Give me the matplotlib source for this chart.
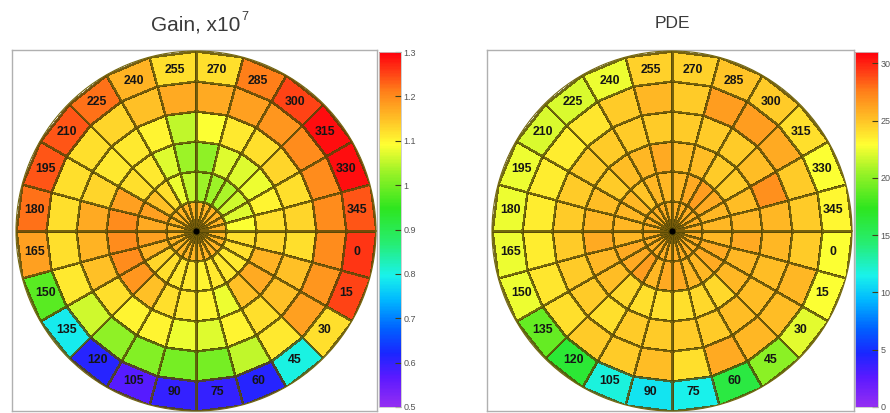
import numpy as np
import matplotlib
matplotlib.use("Agg")
import matplotlib.pyplot as plt
from matplotlib.colors import LinearSegmentedColormap

plt.rcParams['font.family'] = ['Liberation Sans', 'DejaVu Sans']

# ---------------- data ----------------
angles = [0, 15, 30, 45, 60, 75, 90, 105, 120, 135, 150, 165,
          180, 195, 210, 225, 240, 255, 270, 285, 300, 315, 330, 345]
angle_labels = [str(a) for a in angles]
ring_edges = [0, 1, 2, 3, 4, 5, 6]

# Gain (x1e7), ring 0 = innermost ... ring 5 = outermost, ordered by angle
gain_r0 = [1.16] * 24
gain_r1 = [1.12, 1.12, 1.11, 1.11, 1.11, 1.10, 1.11, 1.11, 1.12, 1.13, 1.16, 1.18,
           1.17, 1.18, 1.15, 1.12, 1.08, 1.05, 1.03, 1.03, 1.04, 1.06, 1.07, 1.09]
gain_r2 = [1.13, 1.16, 1.17, 1.15, 1.08, 1.10, 1.11, 1.12, 1.15, 1.19, 1.20, 1.20,
           1.20, 1.18, 1.12, 1.11, 1.07, 1.03, 1.02, 1.07, 1.07, 1.08, 1.10, 1.12]
gain_r3 = [1.12, 1.15, 1.15, 1.12, 1.10, 1.07, 1.08, 1.10, 1.10, 1.12, 1.15, 1.16,
           1.17, 1.13, 1.11, 1.11, 1.10, 1.05, 1.09, 1.11, 1.12, 1.13, 1.12, 1.13]
gain_r4 = [1.20, 1.19, 1.18, 1.11, 1.05, 1.00, 1.00, 1.01, 1.02, 1.06, 1.11, 1.12,
           1.12, 1.12, 1.12, 1.13, 1.15, 1.17, 1.17, 1.18, 1.19, 1.20, 1.20, 1.20]
gain_r5 = [1.26, 1.25, 1.12, 0.80, 0.61, 0.60, 0.60, 0.57, 0.61, 0.79, 0.98, 1.18,
           1.22, 1.24, 1.24, 1.22, 1.16, 1.12, 1.12, 1.21, 1.25, 1.29, 1.29, 1.24]

# PDE (%)
pde_r0 = [25.8] * 24
pde_r1 = [25.5, 26.0, 26.0, 25.5, 25.5, 26.0, 26.0, 25.5, 26.5, 26.0, 26.0, 25.5,
          25.5, 25.5, 25.5, 25.0, 25.5, 25.5, 25.5, 26.0, 26.5, 26.0, 25.5, 25.5]
pde_r2 = [26.0, 25.5, 25.5, 24.3, 24.3, 24.0, 24.0, 24.0, 24.3, 25.2, 25.5, 26.0,
          25.5, 25.2, 24.8, 25.2, 25.5, 26.0, 25.2, 25.2, 24.8, 24.8, 25.2, 25.5]
pde_r3 = [25.5, 25.2, 25.2, 25.2, 24.8, 24.8, 24.8, 24.8, 24.0, 24.8, 24.8, 24.8,
          24.8, 24.8, 24.8, 24.8, 24.8, 24.8, 24.8, 24.8, 24.8, 25.2, 27.0, 25.5]
pde_r4 = [24.8, 25.5, 25.2, 25.5, 26.0, 24.0, 25.2, 24.8, 24.8, 24.0, 23.8, 23.5,
          23.5, 23.5, 23.5, 23.8, 24.8, 25.5, 24.8, 26.5, 26.5, 26.0, 24.8, 24.8]
pde_r5 = [22.8, 22.8, 22.2, 20.0, 16.0, 11.5, 11.0, 11.8, 16.5, 19.0, 22.5, 22.5,
          22.5, 22.5, 22.0, 22.0, 22.5, 24.5, 24.5, 25.0, 24.8, 24.0, 22.8, 23.2]

gain_ticks = [0.5, 0.6, 0.7, 0.8, 0.9, 1.0, 1.1, 1.2, 1.3]
gain_ticklabels = ['0.5', '0.6', '0.7', '0.8', '0.9', '1', '1.1', '1.2', '1.3']
pde_ticks = [0, 5, 10, 15, 20, 25, 30]
pde_ticklabels = ['0', '5', '10', '15', '20', '25', '30']

# ---------------- colormap (ROOT-like rainbow) ----------------
cmap = LinearSegmentedColormap.from_list('rootrainbow', [
    (0.00, (0.58, 0.18, 0.95)),
    (0.08, (0.36, 0.10, 1.00)),
    (0.15, (0.10, 0.15, 1.00)),
    (0.22, (0.00, 0.38, 1.00)),
    (0.30, (0.00, 0.72, 1.00)),
    (0.37, (0.10, 0.95, 0.92)),
    (0.46, (0.15, 0.93, 0.45)),
    (0.56, (0.18, 0.90, 0.12)),
    (0.66, (0.60, 0.95, 0.15)),
    (0.74, (1.00, 1.00, 0.20)),
    (0.81, (1.00, 0.76, 0.15)),
    (0.89, (1.00, 0.50, 0.10)),
    (0.95, (1.00, 0.22, 0.08)),
    (1.00, (1.00, 0.00, 0.05)),
])

W, H = 890, 413
fig = plt.figure(figsize=(W / 100, H / 100), dpi=100)


def fx(px):
    return px / W


def fy(py):
    return 1 - py / H


def panel(cx, box, cbar, values, vmin, vmax, ticks, ticklabels, title, sup,
          tsize, ty):
    cy, R = 231, 180
    bx0, bx1, by0, by1 = box
    fr = fig.add_axes([fx(bx0), fy(by1), fx(bx1 - bx0), (by1 - by0) / H])
    fr.set_xticks([]); fr.set_yticks([])
    for s in fr.spines.values():
        s.set_color('#b0b0b0'); s.set_linewidth(1.0)
    fr.patch.set_alpha(0)

    ax = fig.add_axes([fx(cx - R), fy(cy + R), 2 * R / W, 2 * R / H],
                      projection='polar')
    ax.set_theta_zero_location('E')
    ax.set_theta_direction(-1)
    th_edges = np.deg2rad(np.array(angles + [360], dtype=float))
    C = np.array(values)
    mesh = ax.pcolormesh(th_edges, np.array(ring_edges, dtype=float), C,
                         cmap=cmap, vmin=vmin, vmax=vmax,
                         edgecolors=(0.33, 0.28, 0.02, 0.8), linewidth=1.0,
                         shading='flat')
    ax.set_ylim(0, ring_edges[-1])
    ax.grid(False)
    ax.set_xticks([]); ax.set_yticks([])
    ax.spines['polar'].set_color((0.45, 0.40, 0.05))
    ax.spines['polar'].set_linewidth(0.8)
    ax.patch.set_alpha(0)
    ax.plot([0], [0], 'o', color='black', markersize=3.5)
    for a, lab in zip(angles, angle_labels):
        ax.text(np.deg2rad(a + 7.5), 5.42, lab, ha='center', va='center',
                fontsize=8.8, fontweight='bold', color='#151515')

    c0, c1, cy0, cy1 = cbar
    cax = fig.add_axes([fx(c0), fy(cy1), fx(c1 - c0), (cy1 - cy0) / H])
    cb = fig.colorbar(mesh, cax=cax)
    cb.outline.set_edgecolor('#c8c8c8')
    cb.outline.set_linewidth(0.6)
    cb.set_ticks(ticks)
    cb.set_ticklabels(ticklabels)
    cax.yaxis.set_ticks_position('right')
    cax.tick_params(axis='y', direction='in', length=4, width=0.8,
                    color=(0.25, 0.25, 0.1), labelsize=6.5,
                    labelcolor='#555555', pad=2)

    t = fig.text(fx(cx), fy(ty), title, ha='center', va='center',
                 fontsize=tsize, color='#3a3a3a')
    if sup:
        fig.canvas.draw()
        bb = t.get_window_extent()
        fig.text(bb.x1 + 1, bb.y1 - 2, sup, ha='left', va='center',
                 fontsize=tsize * 0.6, color='#3a3a3a',
                 transform=None)


panel(196, (12, 377, 50, 411), (379, 401, 52, 407),
      [gain_r0, gain_r1, gain_r2, gain_r3, gain_r4, gain_r5],
      0.5, 1.3, gain_ticks, gain_ticklabels, 'Gain, x10', '7', 15, 25)

panel(672, (487, 854, 50, 411), (855, 878, 52, 407),
      [pde_r0, pde_r1, pde_r2, pde_r3, pde_r4, pde_r5],
      0.0, 31.0, pde_ticks, pde_ticklabels, 'PDE', None, 12.5, 23)

fig.savefig('out.png', dpi=100)
